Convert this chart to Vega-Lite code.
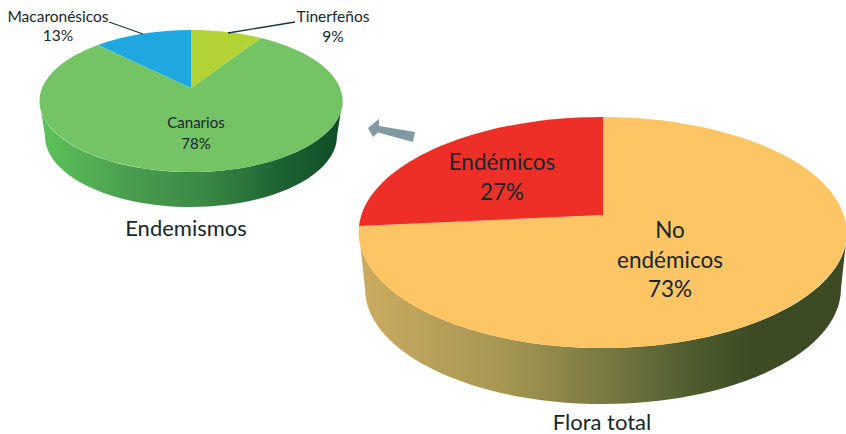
{"$schema":"https://vega.github.io/schema/vega-lite/v6.json","width":846,"height":434,"autosize":{"type":"fit","contains":"padding"},"padding":0,"background":"white","config":{"view":{"stroke":null},"text":{"font":"Lato","color":"#16262b","baseline":"middle","align":"center"},"point":{"filled":true,"opacity":1,"size":4,"stroke":null}},
"datasets":{"slices":[{"pie":"Endemismos","slice":"Canarios","value":0.78},{"pie":"Endemismos","slice":"Macaronésicos","value":0.13},{"pie":"Endemismos","slice":"Tinerfeños","value":0.09},{"pie":"Flora total","slice":"No endémicos","value":0.73},{"pie":"Flora total","slice":"Endémicos","value":0.27}],"pies":[{"pie":"Endemismos"},{"pie":"Flora total"}]},
"data":{"name":"slices"},
"encoding":{"x":{"field":"pie","type":"nominal","axis":null,"scale":{"type":"point","domain":["Endemismos","Flora total"],"range":[191,603],"padding":0}},"y":{"field":"pie","type":"nominal","axis":null,"scale":{"type":"point","domain":["Endemismos","Flora total"],"range":[101,232.5],"padding":0}}},
"layer":[
{"data":{"name":"pies"},"transform":[{"filter":"datum.pie=='Endemismos'"}],"mark":{"type":"point","shape":"M-151.5,0 A151.5,71 0 0 0 151.5,0 L146,35 A146,71 0 0 1 -146,35 Z","fill":{"gradient":"linear","x1":0,"y1":0,"x2":1,"y2":0,"stops":[{"offset":0,"color":"#5cc25a"},{"offset":0.3,"color":"#4a9e4e"},{"offset":0.55,"color":"#3a8845"},{"offset":0.78,"color":"#1f6534"},{"offset":1,"color":"#0f4c25"}]}}},
{"transform":[{"filter":"datum.slice=='Canarios'"}],"mark":{"type":"point","shape":"M0,-13 L70,-63 A151.5,71 0 1 1 -93,-56 Z","fill":"#74c365"}},
{"transform":[{"filter":"datum.slice=='Macaronésicos'"}],"mark":{"type":"point","shape":"M0,-13 L-93,-56 A151.5,71 0 0 1 0,-71 Z","fill":"#1fa8e0"}},
{"transform":[{"filter":"datum.slice=='Tinerfeños'"}],"mark":{"type":"point","shape":"M0,-13 L0,-71 A151.5,71 0 0 1 70,-63 Z","fill":"#b2d235"}},
{"data":{"name":"pies"},"transform":[{"filter":"datum.pie=='Endemismos'"}],"mark":{"type":"point","filled":false,"fill":null,"stroke":"#17383a","strokeWidth":1.3,"shape":"M-82,-79 L-48,-67 M104,-79 L37,-68"}},
{"data":{"name":"pies"},"transform":[{"filter":"datum.pie=='Flora total'"}],"mark":{"type":"point","shape":"M-244,0 A244,115.5 0 0 0 244,0 L238,56 A238,115.5 0 0 1 -238,56 Z","fill":{"gradient":"linear","x1":0,"y1":0,"x2":1,"y2":0,"stops":[{"offset":0,"color":"#cbab60"},{"offset":0.3,"color":"#a59652"},{"offset":0.5,"color":"#7a7a42"},{"offset":0.68,"color":"#4f5c2e"},{"offset":0.8,"color":"#3d4c24"},{"offset":1,"color":"#3d4a24"}]}}},
{"transform":[{"filter":"datum.slice=='No endémicos'"}],"mark":{"type":"point","shape":"M0,-17.5 L-244,-6.5 A244,115.5 0 1 0 0,-115.5 Z","fill":"#fec565"}},
{"transform":[{"filter":"datum.slice=='Endémicos'"}],"mark":{"type":"point","shape":"M0,-17.5 L-244,-6.5 A244,115.5 0 0 1 0,-115.5 Z","fill":"#ee2f27"}},
{"data":{"name":"pies"},"transform":[{"filter":"datum.pie=='Flora total'"}],"mark":{"type":"point","shape":"M-235,-104.5 L-224,-113.5 L-224,-106.5 L-188,-100.5 L-190,-90.5 L-225,-100 L-230,-95.5 Z","fill":"#7f9aa0"}},
{"transform":[{"filter":"datum.slice=='Canarios'"}],"mark":{"type":"text","fontSize":15,"dx":5,"dy":22},"encoding":{"text":{"field":"slice"}}},
{"transform":[{"filter":"datum.slice=='Canarios'"}],"mark":{"type":"text","fontSize":15,"dx":5,"dy":43},"encoding":{"text":{"field":"value","format":".0%"}}},
{"transform":[{"filter":"datum.slice=='Macaronésicos'"}],"mark":{"type":"text","fontSize":15.5,"dx":-133,"dy":-84},"encoding":{"text":{"field":"slice"}}},
{"transform":[{"filter":"datum.slice=='Macaronésicos'"}],"mark":{"type":"text","fontSize":15.5,"dx":-133,"dy":-65},"encoding":{"text":{"field":"value","format":".0%"}}},
{"transform":[{"filter":"datum.slice=='Tinerfeños'"}],"mark":{"type":"text","fontSize":15.5,"dx":142,"dy":-84},"encoding":{"text":{"field":"slice"}}},
{"transform":[{"filter":"datum.slice=='Tinerfeños'"}],"mark":{"type":"text","fontSize":15.5,"dx":142,"dy":-64},"encoding":{"text":{"field":"value","format":".0%"}}},
{"data":{"name":"pies"},"transform":[{"filter":"datum.pie=='Endemismos'"}],"mark":{"type":"text","fontSize":22,"dx":-5,"dy":128},"encoding":{"text":{"field":"pie"}}},
{"transform":[{"filter":"datum.slice=='Endémicos'"}],"mark":{"type":"text","fontSize":22.5,"dx":-101,"dy":-70},"encoding":{"text":{"field":"slice"}}},
{"transform":[{"filter":"datum.slice=='Endémicos'"}],"mark":{"type":"text","fontSize":22.5,"dx":-101,"dy":-40},"encoding":{"text":{"field":"value","format":".0%"}}},
{"transform":[{"filter":"datum.slice=='No endémicos'"}],"mark":{"type":"text","fontSize":22.5,"dx":67,"dy":-2,"text":"No"}},
{"transform":[{"filter":"datum.slice=='No endémicos'"}],"mark":{"type":"text","fontSize":22.5,"dx":67,"dy":28,"text":"endémicos"}},
{"transform":[{"filter":"datum.slice=='No endémicos'"}],"mark":{"type":"text","fontSize":22.5,"dx":67,"dy":57},"encoding":{"text":{"field":"value","format":".0%"}}},
{"data":{"name":"pies"},"transform":[{"filter":"datum.pie=='Flora total'"}],"mark":{"type":"text","fontSize":22,"dx":-1,"dy":190},"encoding":{"text":{"field":"pie"}}}
]}
